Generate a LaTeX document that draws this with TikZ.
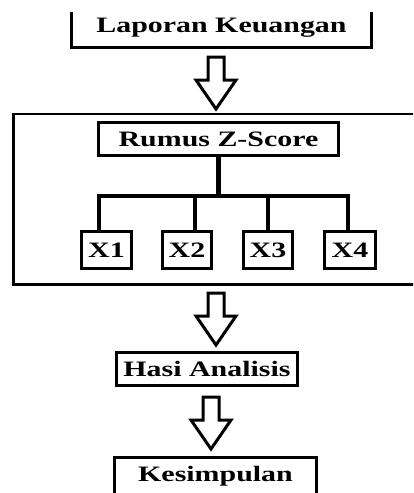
\documentclass[tikz,border=0pt]{standalone}
\usepackage{fontspec}
\setmainfont[FakeStretch=1.36]{Liberation Serif}

\begin{document}
\begin{tikzpicture}[x=1pt,y=-1pt,
	box/.style={draw,line width=2.6pt,inner sep=0pt,font=\fontsize{22}{24}\selectfont\bfseries},
	conn/.style={line width=4.5pt},
	downarr/.pic={\draw[line width=3pt] (-8,0) -- (-8,23) -- (-20,23) -- (0,52) -- (20,23) -- (8,23) -- (8,0) -- cycle;}]
\useasboundingbox (0,0) rectangle (413,493);
\clip (0,12) rectangle (413,493);

\node[box,minimum width=300,minimum height=39.5] (lap) at (221.5,28) {Laporan Keuangan};
\pic at (216,57) {downarr};

\node[draw,line width=2.5pt,minimum width=416.3,minimum height=170.9] (grp) at (221.85,199.25) {};
\node[box,minimum width=240.5,minimum height=33.5] (rumus) at (218.5,139) {Rumus Z-Score};
\node[box,minimum width=50.5,minimum height=37.5] (x1) at (106.5,250) {X1};
\node[box,minimum width=49.5,minimum height=37.5] (x2) at (187,250) {X2};
\node[box,minimum width=49.5,minimum height=37.5] (x3) at (268,250) {X3};
\node[box,minimum width=51.5,minimum height=37.5] (x4) at (350,250) {X4};
\coordinate (bus) at (218.5,196);

\draw[conn] (rumus.south) -- (bus);
\draw[conn] ([xshift=-7.5pt]x1.north) |- (bus) -| ([xshift=-2pt]x4.north);
\foreach \b/\d in {x2/8,x3/0}
	\draw[conn] ([xshift=\d pt]\b.north) -- ([xshift=\d pt]\b.north |- bus);

\pic at (216,293) {downarr};
\node[box,minimum width=181.5,minimum height=33.5] (hasi) at (207,369) {Hasi Analisis};
\pic at (211,397) {downarr};
\node[box,minimum width=202.5,minimum height=37.5] (kes) at (215.5,476) {Kesimpulan};

\end{tikzpicture}
\end{document}
